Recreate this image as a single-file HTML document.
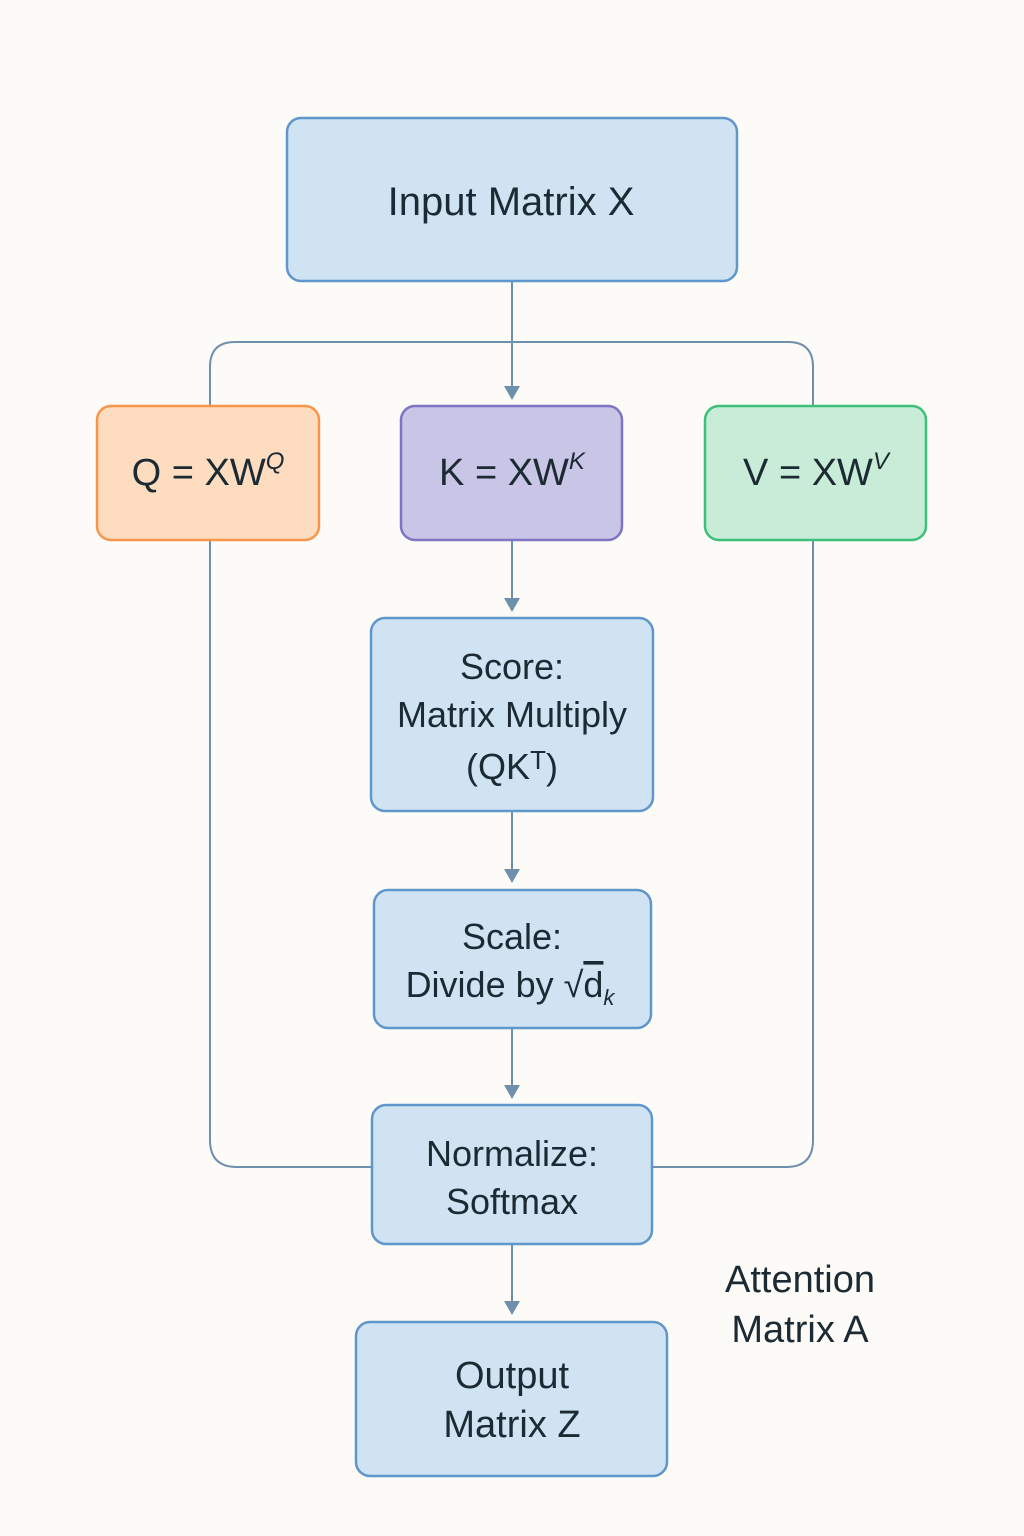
<!DOCTYPE html>
<html><head><meta charset="utf-8"><style>
html,body{margin:0;padding:0;background:#fcfbf7;}
svg{display:block}
text{font-family:"Liberation Sans","DejaVu Sans",sans-serif;fill:#1c2a33;text-anchor:middle}
</style></head><body>
<svg width="1024" height="1536" viewBox="0 0 1024 1536" xmlns="http://www.w3.org/2000/svg">
<rect width="1024" height="1536" fill="#fcfbf7"/>
<defs><marker id="a" markerWidth="16" markerHeight="14" refX="8" refY="13" orient="auto" markerUnits="userSpaceOnUse" viewBox="0 0 16 14"><path d="M0,0 L16,0 L8,14 Z" fill="#6e90ad" transform="rotate(-90 8 7)"/></marker></defs>
<g fill="none" stroke="#6e90ad" stroke-width="2">
<path d="M210,405 V367 Q210,342 235,342 H788 Q813,342 813,367 V405"/>
<path d="M210,540 V1140 Q210,1167 237,1167 H372"/>
<path d="M813,540 V1140 Q813,1167 786,1167 H652"/>
</g>
<g stroke="#6e90ad" stroke-width="2" fill="#6e90ad">
<line x1="512" y1="281" x2="512" y2="388"/><path d="M504,386 L520,386 L512,400 Z" stroke="none"/>
<line x1="512" y1="540" x2="512" y2="600"/><path d="M504,598 L520,598 L512,612 Z" stroke="none"/>
<line x1="512" y1="811" x2="512" y2="871"/><path d="M504,869 L520,869 L512,883 Z" stroke="none"/>
<line x1="512" y1="1028" x2="512" y2="1087"/><path d="M504,1085 L520,1085 L512,1099 Z" stroke="none"/>
<line x1="512" y1="1244" x2="512" y2="1303"/><path d="M504,1301 L520,1301 L512,1315 Z" stroke="none"/>
</g>
<g stroke-width="2.5">
<rect x="287" y="118" width="450" height="163" rx="14" fill="#cfe3f2" stroke="#5f97cc"/>
<rect x="97" y="406" width="222" height="134" rx="14" fill="#fddcc0" stroke="#f7954a"/>
<rect x="401" y="406" width="221" height="134" rx="14" fill="#c9c5e6" stroke="#7d74c4"/>
<rect x="705" y="406" width="221" height="134" rx="14" fill="#c8ecd8" stroke="#3cc07a"/>
<rect x="371" y="618" width="282" height="193" rx="14" fill="#cfe3f2" stroke="#5f97cc"/>
<rect x="374" y="890" width="277" height="138" rx="14" fill="#cfe3f2" stroke="#5f97cc"/>
<rect x="372" y="1105" width="280" height="139" rx="14" fill="#cfe3f2" stroke="#5f97cc"/>
<rect x="356" y="1322" width="311" height="154" rx="14" fill="#cfe3f2" stroke="#5f97cc"/>
</g>
<text x="511" y="215" font-size="40">Input Matrix X</text>
<text x="208" y="485" font-size="38">Q = XW<tspan font-size="24" dy="-16" font-style="italic">Q</tspan></text>
<text x="512" y="485" font-size="38">K = XW<tspan font-size="24" dy="-16" font-style="italic">K</tspan></text>
<text x="816" y="485" font-size="38">V = XW<tspan font-size="24" dy="-16" font-style="italic">V</tspan></text>
<text x="512" y="679" font-size="36">Score:</text>
<text x="512" y="727" font-size="36">Matrix Multiply</text>
<text x="512" y="779" font-size="36">(QK<tspan font-size="26" dy="-10">T</tspan><tspan dy="10">)</tspan></text>
<text x="512" y="949" font-size="36">Scale:</text>
<text x="510" y="997" font-size="36">Divide by √<tspan text-decoration="overline">d</tspan><tspan font-size="22" dy="8" font-style="italic">k</tspan></text>
<text x="512" y="1166" font-size="36">Normalize:</text>
<text x="512" y="1214" font-size="36">Softmax</text>
<text x="512" y="1388" font-size="38">Output</text>
<text x="512" y="1437" font-size="38">Matrix Z</text>
<text x="800" y="1292" font-size="38">Attention</text>
<text x="800" y="1342" font-size="38">Matrix A</text>
</svg>
</body></html>
